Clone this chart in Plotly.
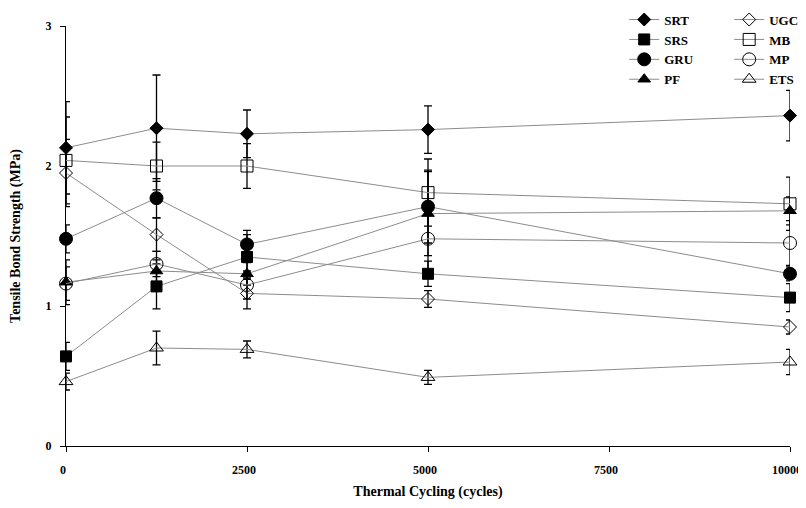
import plotly.graph_objects as go

cycles = [0, 1250, 2500, 5000, 10000]

SRT = [2.13, 2.27, 2.23, 2.26, 2.36]
SRT_err = [0.33, 0.38, 0.17, 0.17, 0.18]
SRS = [0.64, 1.14, 1.35, 1.23, 1.06]
SRS_err = [0.10, 0.16, 0.16, 0.09, 0.10]
GRU = [1.48, 1.77, 1.44, 1.71, 1.23]
GRU_err = [0.10, 0.14, 0.10, 0.26, 0.05]
PF = [1.17, 1.25, 1.23, 1.66, 1.68]
PF_err = [0.16, 0.08, 0.08, 0.30, 0.10]
UGC = [1.95, 1.51, 1.09, 1.05, 0.85]
UGC_err = [0.24, 0.12, 0.11, 0.06, 0.05]
MB = [2.04, 2.00, 2.00, 1.81, 1.73]
MB_err = [0.31, 0.17, 0.16, 0.24, 0.19]
MP = [1.16, 1.30, 1.15, 1.48, 1.45]
MP_err = [0.12, 0.09, 0.10, 0.25, 0.16]
ETS = [0.46, 0.70, 0.69, 0.49, 0.60]
ETS_err = [0.06, 0.12, 0.06, 0.05, 0.09]

x_ticks = [0, 2500, 5000, 7500, 10000]
y_ticks = [0, 1, 2, 3]

series = [
    ("SRT", SRT, SRT_err, "diamond", 10, "legend"),
    ("SRS", SRS, SRS_err, "square", 11, "legend"),
    ("GRU", GRU, GRU_err, "circle", 13, "legend"),
    ("PF", PF, PF_err, "triangle-up", 11, "legend"),
    ("UGC", UGC, UGC_err, "diamond-open", 10, "legend2"),
    ("MB", MB, MB_err, "square-open", 12, "legend2"),
    ("MP", MP, MP_err, "circle-open", 13, "legend2"),
    ("ETS", ETS, ETS_err, "triangle-up-open", 12, "legend2"),
]

fig = go.Figure()
for name, vals, errs, sym, size, leg in series:
    fig.add_trace(go.Scatter(
        x=cycles, y=vals, name=name, mode="lines+markers",
        line=dict(color="#8c8c8c", width=1),
        marker=dict(symbol=sym, size=size, color="black",
                    line=dict(color="black", width=1)),
        error_y=dict(type="data", array=errs, visible=True,
                     color="black", thickness=1.3, width=4),
        cliponaxis=False,
        legend=leg,
    ))

font_main = dict(family="Liberation Serif, Times New Roman, serif", size=12,
                 color="black", weight="bold")

# page shows an 8px body margin, so the figure is sized to fit inside it
leg_common = dict(xref="paper", yref="paper", xanchor="left",
                  yanchor="top", bgcolor="rgba(0,0,0,0)",
                  font=dict(size=13), tracegroupgap=0, itemwidth=30)

fig.update_layout(
    width=798, height=492,
    paper_bgcolor="white", plot_bgcolor="white",
    margin=dict(l=58, r=16, t=18, b=54, autoexpand=False),
    font=font_main,
    showlegend=True,
    legend=dict(x=0.771, y=1.051, **leg_common),
    legend2=dict(x=0.916, y=1.051, **leg_common),
    xaxis=dict(range=[0, 10000], tickvals=x_ticks,
               ticktext=[str(v) for v in x_ticks],
               showgrid=False, zeroline=False, automargin=False,
               showline=True, linecolor="black", linewidth=1,
               ticks="outside", ticklen=5, tickcolor="black",
               ticklabelstandoff=8, ticklabelshift=-3,
               ticklabeloverflow="allow",
               title=dict(text="Thermal Cycling (cycles)", standoff=11)),
    yaxis=dict(range=[0, 3], tickvals=y_ticks,
               showgrid=False, zeroline=False, automargin=False,
               showline=True, linecolor="black", linewidth=1,
               ticks="outside", ticklen=5, tickcolor="black",
               ticklabelstandoff=6,
               title=dict(text="Tensile Bond Strength (MPa)", standoff=22)),
)

fig.write_html("out.html")
